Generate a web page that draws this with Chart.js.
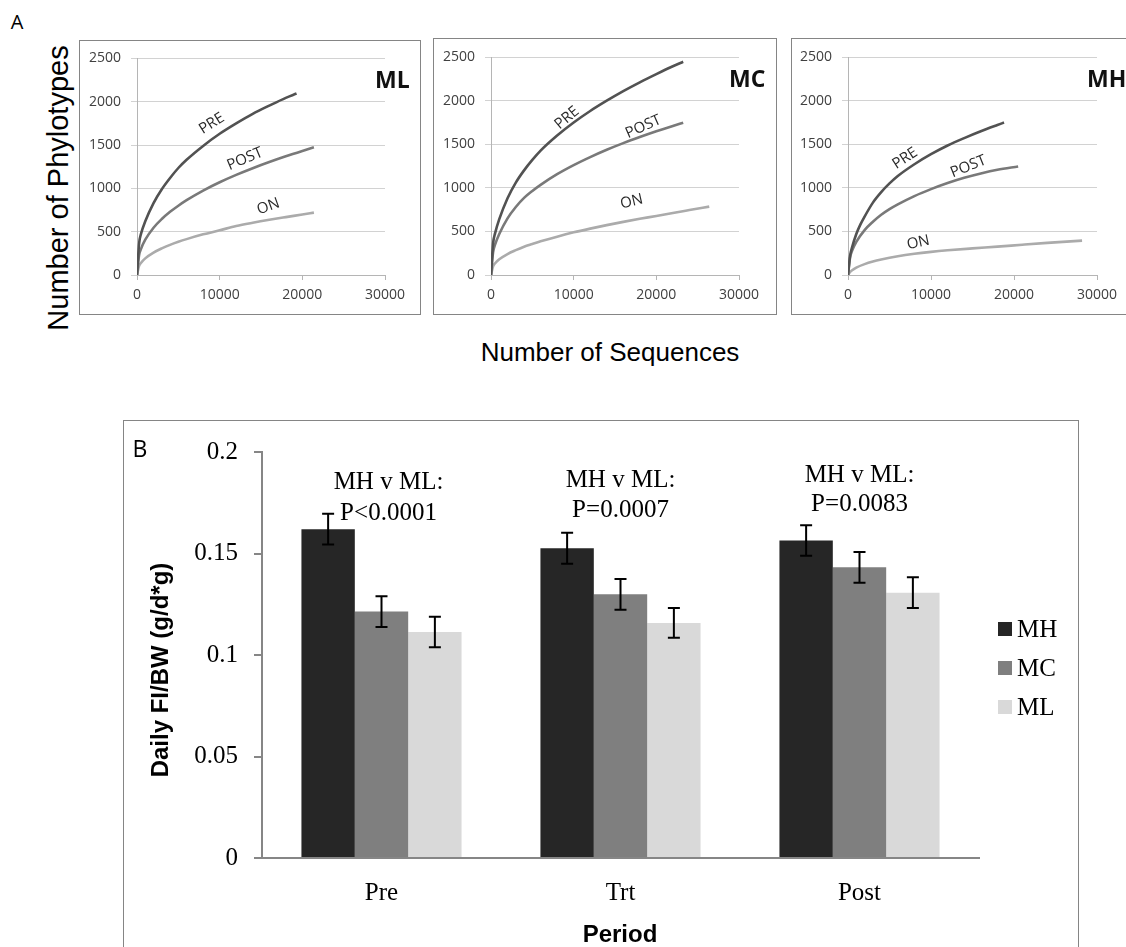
<!DOCTYPE html>
<html>
<head>
<meta charset="utf-8">
<script src="https://cdn.jsdelivr.net/npm/chart.js@4.4.1/dist/chart.umd.min.js"></script>
<style>
html, body { margin: 0; padding: 0; background: #fff; width: 1126px; height: 947px; overflow: hidden; }
canvas { position: absolute; }
.caixa { position: absolute; border: 1.5px solid #858585; box-sizing: border-box; pointer-events: none; }
.texto { position: absolute; white-space: nowrap; line-height: 1; transform: translate(-50%, -50%); }
</style>
</head>
<body>

<div class="texto" style="left:17px; top:21px; font:20px 'Open Sans';">A</div>
<div class="texto" style="left:58px; top:188px; font:29px 'Liberation Sans'; transform: translate(-50%, -50%) rotate(-90deg);">Number of Phylotypes</div>
<div class="texto" style="left:610px; top:352px; font:26px 'Liberation Sans';">Number of Sequences</div>

<canvas id="painel-ml" width="342" height="276" style="left:79px; top:40px;"></canvas>
<div class="caixa" style="left:79px; top:40px; width:342px; height:275px;"></div>
<canvas id="painel-mc" width="344" height="277" style="left:433px; top:38px;"></canvas>
<div class="caixa" style="left:433px; top:38px; width:344px; height:277px;"></div>
<canvas id="painel-mh" width="349" height="277" style="left:791px; top:38px;"></canvas>
<div class="caixa" style="left:791px; top:38px; width:349px; height:277px;"></div>

<canvas id="grafico-barras" width="956" height="526" style="left:123px; top:421px;"></canvas>
<div class="caixa" style="left:123px; top:420px; width:956px; height:540px;"></div>
<div class="texto" style="left:140px; top:448px; font:23px 'Open Sans';">B</div>
<div class="texto" style="left:160px; top:670px; font:bold 24px 'Liberation Sans'; transform: translate(-50%, -50%) rotate(-90deg);">Daily FI/BW (g/d*g)</div>
<div class="texto" style="left:620px; top:934px; font:bold 24px 'Liberation Sans';">Period</div>

<script>
// Eixos do painel A
const seqTicks = [0, 10000, 20000, 30000];
const seqTickLabels = ['0', '10000', '20000', '30000'];
const filoTicks = [0, 500, 1000, 1500, 2000, 2500];
const filoTickLabels = ['0', '500', '1000', '1500', '2000', '2500'];

// Curvas de rarefacao [sequencias, filotipos]
const mlPre = [[0, 0], [250, 360], [500, 480], [1000, 620], [2000, 830], [3000, 990], [4000, 1120], [5000, 1235], [6000, 1330], [8000, 1490], [10000, 1630], [12000, 1750], [14000, 1860], [16000, 1955], [18000, 2045], [19300, 2094]];
const mlPost = [[0, 0], [250, 227], [500, 304], [1000, 407], [2000, 545], [3000, 646], [4000, 729], [5000, 800], [6000, 864], [8000, 975], [10000, 1071], [12000, 1156], [14000, 1233], [16000, 1304], [18000, 1370], [20000, 1432], [21400, 1474]];
const mlOn = [[0, 0], [250, 106], [500, 142], [1000, 192], [2000, 258], [3000, 307], [4000, 348], [5000, 383], [6000, 414], [8000, 469], [10000, 516], [12000, 565], [14000, 603], [16000, 637], [18000, 668], [20000, 698], [21400, 720]];

const mcPre = [[0, 0], [250, 360], [500, 480], [1000, 640], [2000, 880], [3000, 1060], [4000, 1200], [5000, 1320], [6000, 1427], [8000, 1600], [10000, 1749], [12000, 1881], [14000, 1999], [16000, 2109], [18000, 2210], [20000, 2304], [22000, 2394], [23250, 2446]];
const mcPost = [[0, 0], [250, 260], [500, 350], [1000, 470], [2000, 650], [3000, 780], [4000, 884], [5000, 964], [6000, 1034], [8000, 1156], [10000, 1260], [12000, 1352], [14000, 1436], [16000, 1512], [18000, 1582], [20000, 1648], [22000, 1710], [23250, 1747]];
const mcOn = [[0, 0], [250, 100], [500, 135], [1000, 180], [2000, 240], [3000, 285], [4000, 325], [5000, 356], [6000, 386], [8000, 440], [10000, 489], [12000, 532], [14000, 572], [16000, 609], [18000, 644], [20000, 677], [22000, 712], [24000, 745], [26400, 784]];

const mhPre = [[0, 0], [250, 220], [500, 320], [1000, 470], [1500, 580], [2000, 670], [3000, 830], [4000, 950], [5000, 1050], [6000, 1135], [8000, 1270], [10000, 1385], [12000, 1485], [14000, 1570], [16000, 1648], [18000, 1720], [18800, 1748]];
const mhPost = [[0, 0], [250, 200], [500, 280], [1000, 380], [2000, 515], [3000, 610], [4000, 690], [5000, 755], [6000, 810], [8000, 905], [10000, 985], [12000, 1055], [14000, 1115], [16000, 1165], [18000, 1207], [20500, 1245]];
const mhOn = [[0, 0], [250, 35], [500, 55], [1000, 85], [2000, 125], [3000, 155], [4000, 178], [6000, 215], [8000, 243], [10000, 265], [12000, 283], [15000, 305], [18000, 325], [21000, 347], [24000, 368], [28200, 394]];

// Painel B
const periodos = ['Pre', 'Trt', 'Post'];
const grupos = ['MH', 'MC', 'ML'];
const mhMedia = [0.1620, 0.1526, 0.1564];
const mhErro = [0.0076, 0.0076, 0.0075];
const mcMedia = [0.1214, 0.1299, 0.1432];
const mcErro = [0.0076, 0.0076, 0.0076];
const mlMedia = [0.1113, 0.1158, 0.1307];
const mlErro = [0.0075, 0.0073, 0.0076];
const comparacao = 'MH v ML:';
const valoresP = ['P<0.0001', 'P=0.0007', 'P=0.0083'];
const yTicksB = ['0', '0.05', '0.1', '0.15', '0.2'];

const coresCurvas = ['#525252', '#797979', '#ababab'];
const coresBarras = ['#262626', '#7f7f7f', '#d9d9d9'];

// Rotulos das curvas e titulo de cada painel
const rotulosCurvas = {
    id: 'rotulosCurvas',
    afterDatasetsDraw(chart, args, opts) {
        const { ctx, chartArea, scales: { x, y } } = chart;
        ctx.save();
        ctx.fillStyle = '#2a2a2a';
        ctx.font = '15px "Open Sans"';
        ctx.textAlign = 'center';
        ctx.textBaseline = 'middle';
        opts.rotulos.forEach(r => {
            ctx.save();
            ctx.translate(x.getPixelForValue(r.x), y.getPixelForValue(r.y));
            ctx.rotate(r.angulo * Math.PI / 180);
            ctx.fillText(r.texto, 0, 0);
            ctx.restore();
        });
        ctx.fillStyle = '#111';
        ctx.font = 'bold 23px "Open Sans"';
        ctx.textAlign = 'left';
        ctx.fillText(opts.titulo, chartArea.right - 10, chartArea.top + 23);
        ctx.restore();
    }
};

function criarPainel(id, titulo, pre, post, on, rotulos, ajuste) {
    const ctx = document.getElementById(id).getContext('2d');
    const series = [['PRE', pre], ['POST', post], ['ON', on]];
    new Chart(ctx, {
        type: 'line',
        data: {
            datasets: series.map((s, i) => ({
                label: s[0],
                data: s[1].map(p => ({ x: p[0], y: p[1] })),
                borderColor: coresCurvas[i],
                borderWidth: 2.6,
                pointRadius: 0,
                cubicInterpolationMode: 'monotone',
                fill: false
            }))
        },
        options: {
            responsive: false,
            animation: false,
            layout: { padding: { top: ajuste.topo, right: ajuste.direita, left: 0, bottom: 0 } },
            plugins: {
                legend: { display: false },
                tooltip: { enabled: false },
                rotulosCurvas: { rotulos: rotulos, titulo: titulo }
            },
            scales: {
                x: {
                    type: 'linear',
                    min: 0,
                    max: 30000,
                    afterBuildTicks: s => { s.ticks = seqTicks.map(v => ({ value: v })); },
                    afterFit: s => { s.height = ajuste.alturaX; },
                    ticks: {
                        callback: (v, i) => seqTickLabels[i],
                        font: { family: 'Open Sans', size: 14 },
                        color: '#404040',
                        padding: 7,
                        maxRotation: 0
                    },
                    grid: { drawOnChartArea: false, tickLength: 5, color: '#b5b5b5' },
                    border: { color: '#b5b5b5' }
                },
                y: {
                    min: 0,
                    max: 2500,
                    afterBuildTicks: s => { s.ticks = filoTicks.map(v => ({ value: v })); },
                    afterFit: s => { s.width = ajuste.larguraY; },
                    ticks: {
                        callback: (v, i) => filoTickLabels[i],
                        font: { family: 'Open Sans', size: 14 },
                        color: '#404040',
                        padding: 10
                    },
                    grid: { color: '#d2d2d2', tickLength: 6 },
                    border: { color: '#b5b5b5' }
                }
            }
        },
        plugins: [rotulosCurvas]
    });
}

criarPainel('painel-ml', 'ML', mlPre, mlPost, mlOn, [
    { texto: 'PRE', x: 9036, y: 1747, angulo: -32 },
    { texto: 'POST', x: 13065, y: 1338, angulo: -23 },
    { texto: 'ON', x: 15883, y: 791, angulo: -20 }
], { topo: 17, direita: 36, larguraY: 58, alturaX: 41 });

criarPainel('painel-mc', 'MC', mcPre, mcPost, mcOn, [
    { texto: 'PRE', x: 9200, y: 1800, angulo: -40 },
    { texto: 'POST', x: 18423, y: 1700, angulo: -24 },
    { texto: 'ON', x: 17020, y: 841, angulo: -13 }
], { topo: 19, direita: 38, larguraY: 58, alturaX: 40 });

criarPainel('painel-mh', 'MH', mhPre, mhPost, mhOn, [
    { texto: 'PRE', x: 6867, y: 1338, angulo: -33 },
    { texto: 'POST', x: 14494, y: 1242, angulo: -22 },
    { texto: 'ON', x: 8470, y: 370, angulo: -12 }
], { topo: 19, direita: 43, larguraY: 57, alturaX: 40 });

// Barras de erro
const barrasErro = {
    id: 'barrasErro',
    afterDatasetsDraw(chart) {
        const { ctx, scales: { y } } = chart;
        ctx.save();
        ctx.strokeStyle = '#000';
        ctx.lineWidth = 2;
        chart.data.datasets.forEach((ds, i) => {
            chart.getDatasetMeta(i).data.forEach((barra, j) => {
                const topo = y.getPixelForValue(ds.data[j] + ds.erros[j]);
                const base = y.getPixelForValue(ds.data[j] - ds.erros[j]);
                ctx.beginPath();
                ctx.moveTo(barra.x, topo); ctx.lineTo(barra.x, base);
                ctx.moveTo(barra.x - 6, topo); ctx.lineTo(barra.x + 6, topo);
                ctx.moveTo(barra.x - 6, base); ctx.lineTo(barra.x + 6, base);
                ctx.stroke();
            });
        });
        ctx.restore();
    }
};

// Comparacoes MH v ML sobre cada periodo
const anotacoes = {
    id: 'anotacoes',
    afterDatasetsDraw(chart, args, opts) {
        const { ctx, scales: { x, y } } = chart;
        ctx.save();
        ctx.fillStyle = '#000';
        ctx.font = '25px "Liberation Serif"';
        ctx.textAlign = 'center';
        ctx.textBaseline = 'middle';
        periodos.forEach((p, j) => {
            const cx = x.getPixelForValue(j) + opts.dx[j];
            ctx.fillText(comparacao, cx, y.getPixelForValue(opts.linha1[j]));
            ctx.fillText(valoresP[j], cx, y.getPixelForValue(opts.linha2[j]));
        });
        ctx.restore();
    }
};

// Legenda a direita
const legendaLateral = {
    id: 'legendaLateral',
    afterDraw(chart, args, opts) {
        const { ctx } = chart;
        ctx.save();
        ctx.font = '25px "Liberation Serif"';
        ctx.textBaseline = 'middle';
        chart.data.datasets.forEach((ds, i) => {
            const cy = opts.y + i * opts.passo;
            ctx.fillStyle = ds.backgroundColor;
            ctx.fillRect(opts.x, cy - 7, 14, 14);
            ctx.fillStyle = '#000';
            ctx.fillText(ds.label, opts.x + 19, cy + 1);
        });
        ctx.restore();
    }
};

new Chart(document.getElementById('grafico-barras').getContext('2d'), {
    type: 'bar',
    data: {
        labels: periodos,
        datasets: [
            { label: grupos[0], data: mhMedia, erros: mhErro, backgroundColor: coresBarras[0] },
            { label: grupos[1], data: mcMedia, erros: mcErro, backgroundColor: coresBarras[1] },
            { label: grupos[2], data: mlMedia, erros: mlErro, backgroundColor: coresBarras[2] }
        ]
    },
    options: {
        responsive: false,
        animation: false,
        categoryPercentage: 0.67,
        barPercentage: 1,
        layout: { padding: { top: 22, right: 100, left: 0, bottom: 0 } },
        plugins: {
            legend: { display: false },
            tooltip: { enabled: false },
            anotacoes: { dx: [7, 0, 0], linha1: [0.1849, 0.1861, 0.1884], linha2: [0.1698, 0.1710, 0.1740] },
            legendaLateral: { x: 875, y: 208, passo: 39 }
        },
        scales: {
            x: {
                afterFit: s => { s.height = 89; },
                ticks: { font: { family: 'Liberation Serif', size: 25 }, color: '#000', padding: 20 },
                grid: { display: false, drawTicks: false },
                border: { color: '#868686', width: 2 }
            },
            y: {
                min: 0,
                max: 0.2,
                afterFit: s => { s.width = 139; },
                ticks: {
                    stepSize: 0.05,
                    callback: (v, i) => yTicksB[i],
                    font: { family: 'Liberation Serif', size: 25 },
                    color: '#000',
                    padding: 16
                },
                grid: { drawOnChartArea: false, tickLength: 8, color: '#868686', lineWidth: 2 },
                border: { color: '#868686', width: 2 }
            }
        }
    },
    plugins: [barrasErro, anotacoes, legendaLateral]
});
</script>
</body>
</html>
